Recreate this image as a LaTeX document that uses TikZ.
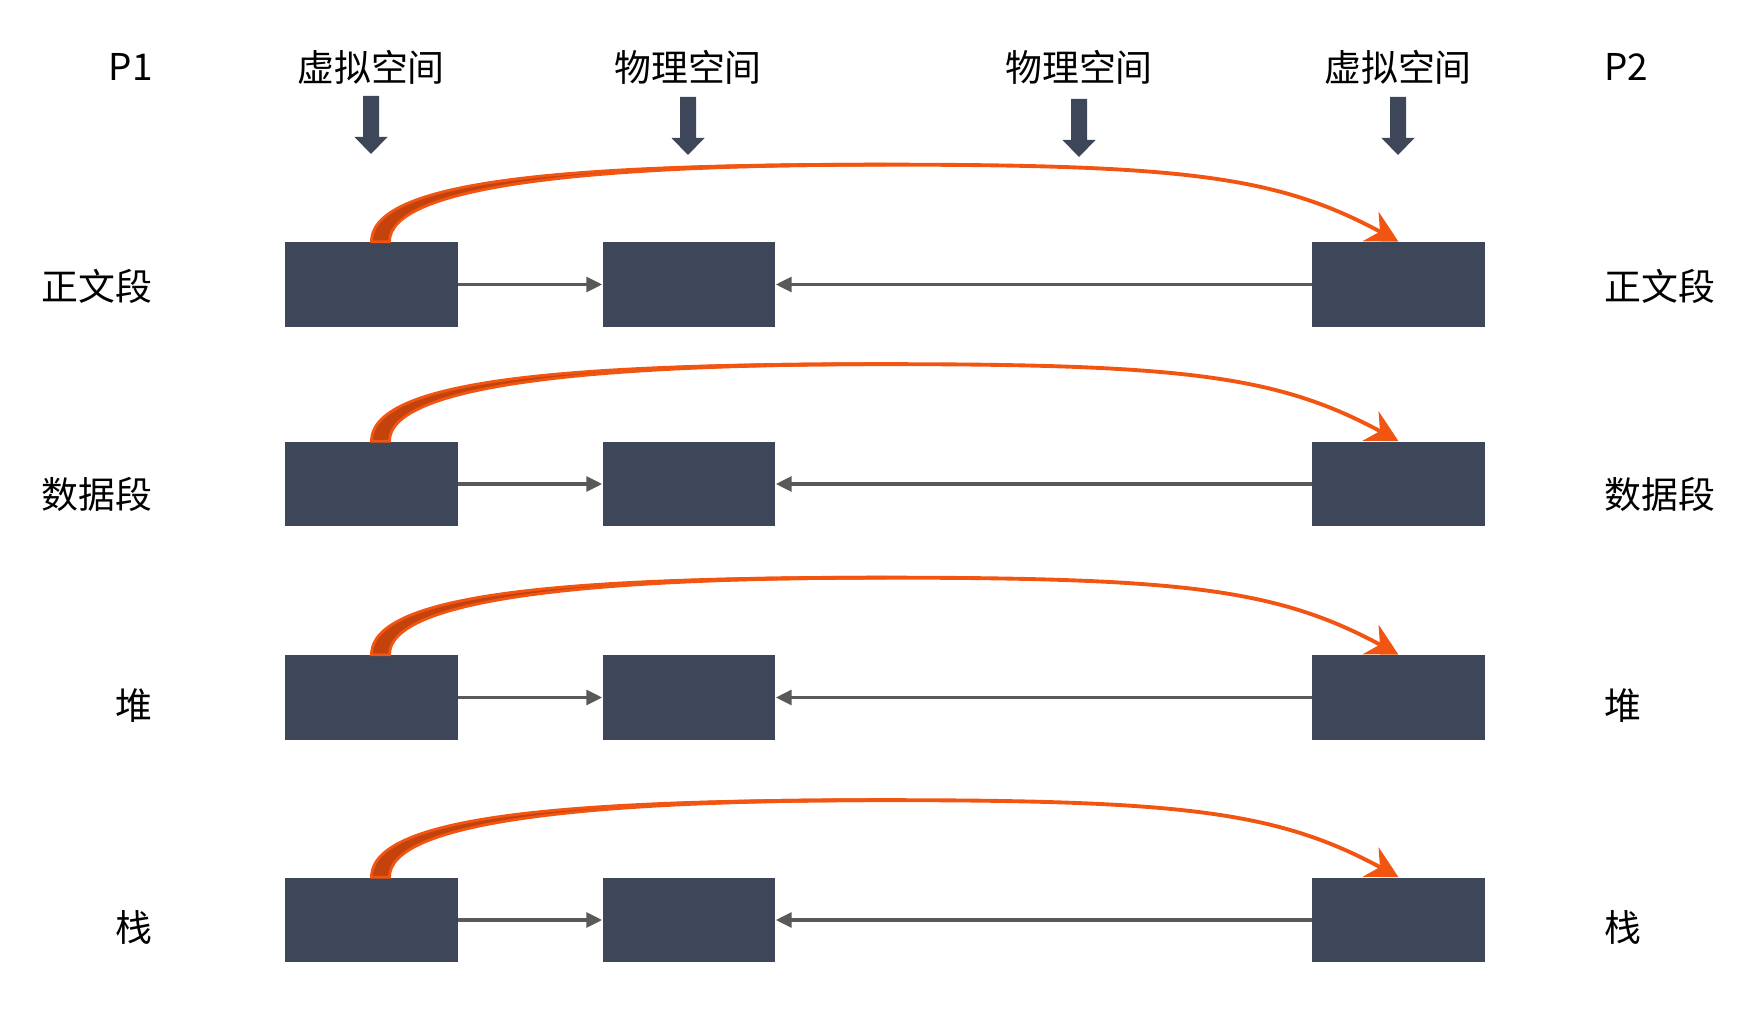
\documentclass[tikz,border=0pt]{standalone}
\usepackage{fontspec}
\setmainfont{Noto Sans CJK SC}
\usetikzlibrary{arrows.meta,calc}

\definecolor{boxc}{HTML}{3D4759}
\definecolor{lnk}{HTML}{595959}
\definecolor{orc}{HTML}{F25511}
\definecolor{orcd}{HTML}{C4420C}

\tikzset{
  blk/.style={fill=boxc, inner sep=0pt, minimum width=3.46cm, minimum height=1.7cm},
  lbl/.style={font=\fontsize{21pt}{25pt}\selectfont, inner sep=0pt},
  link/.style={draw=lnk, line width=1.8pt, -{Triangle[length=9pt,width=8.5pt]}},
  maparc/.style={draw=orc, line width=2.2pt, -{Stealth[length=18pt,width=19pt,inset=6pt]}},
  taper/.style={fill=orcd, draw=orc, line width=1.6pt},
  dn/.style={fill=boxc},
}

% arco arancione da #1 a #2
\newcommand{\maparcto}[2]{%
  \coordinate (s) at ($(#1.north)+(9,0)$);
  \coordinate (m) at ($(#1.north)!0.5!(#2.north)+(0,-77)$);
  \draw[maparc] (s) .. controls +(0,-60) and +(-300,0) .. (m)
    .. controls +(300,0) and +(-120,-65) .. (#2.north);
  \filldraw[taper] ($(s)+(-9,0)$) .. controls +(0,-64) and +(-300,0) .. ($(m)+(0,-0.4)$)
    -- ($(m)+(0,0.4)$) .. controls +(-300,0) and +(0,-55) .. ($(s)+(9,0)$) -- cycle;
}

\begin{document}
\begin{tikzpicture}[x=0.02cm, y=-0.02cm]
    \useasboundingbox (0,0) rectangle (1752,1010);

    % intestazioni
    \node[lbl, anchor=east] (pl) at (153,67) {P1};
    \node[lbl] (t1) at (371,67) {虚拟空间};
    \node[lbl] (t2) at (688,67) {物理空间};
    \node[lbl] (t3) at (1079,67) {物理空间};
    \node[lbl] (t4) at (1398,67) {虚拟空间};
    \node[lbl, anchor=west] (pr) at (1604,67) {P2};

    % frecce in giu
    \fill[dn] (363,96) -- ++(16,0) -- ++(0,41) -- ++(8.5,0) -- ++(-16.5,17) -- ++(-16.5,-17) -- ++(8.5,0) -- cycle;
    \fill[dn] (680,97) -- ++(16,0) -- ++(0,41) -- ++(8.5,0) -- ++(-16.5,17) -- ++(-16.5,-17) -- ++(8.5,0) -- cycle;
    \fill[dn] (1071,99) -- ++(16,0) -- ++(0,41) -- ++(8.5,0) -- ++(-16.5,17) -- ++(-16.5,-17) -- ++(8.5,0) -- cycle;
    \fill[dn] (1390,97) -- ++(16,0) -- ++(0,41) -- ++(8.5,0) -- ++(-16.5,17) -- ++(-16.5,-17) -- ++(8.5,0) -- cycle;

    % 正文段
    \node[lbl, anchor=east] (l1) at (153,286) {正文段};
    \node[lbl, anchor=west] (r1) at (1604,286) {正文段};
    \node[blk] (va1) at (371.5,284.5) {};
    \node[blk] (pa1) at (689,284.5) {};
    \node[blk] (vb1) at (1398.5,284.5) {};
    \draw[link] (va1.east) -- (pa1.west);
    \draw[link] (vb1.west) -- (pa1.east);
    \maparcto{va1}{vb1}

    % 数据段
    \node[lbl, anchor=east] (l2) at (153,494) {数据段};
    \node[lbl, anchor=west] (r2) at (1604,494) {数据段};
    \node[blk] (va2) at (371.5,484) {};
    \node[blk] (pa2) at (689,484) {};
    \node[blk] (vb2) at (1398.5,484) {};
    \draw[link] (va2.east) -- (pa2.west);
    \draw[link] (vb2.west) -- (pa2.east);
    \maparcto{va2}{vb2}

    % 堆
    \node[lbl, anchor=east] (l3) at (153,706) {堆};
    \node[lbl, anchor=west] (r3) at (1604,706) {堆};
    \node[blk] (va3) at (371.5,697.5) {};
    \node[blk] (pa3) at (689,697.5) {};
    \node[blk] (vb3) at (1398.5,697.5) {};
    \draw[link] (va3.east) -- (pa3.west);
    \draw[link] (vb3.west) -- (pa3.east);
    \maparcto{va3}{vb3}

    % 栈
    \node[lbl, anchor=east] (l4) at (153,927) {栈};
    \node[lbl, anchor=west] (r4) at (1604,927) {栈};
    \node[blk] (va4) at (371.5,920) {};
    \node[blk] (pa4) at (689,920) {};
    \node[blk] (vb4) at (1398.5,920) {};
    \draw[link] (va4.east) -- (pa4.west);
    \draw[link] (vb4.west) -- (pa4.east);
    \maparcto{va4}{vb4}
\end{tikzpicture}
\end{document}
